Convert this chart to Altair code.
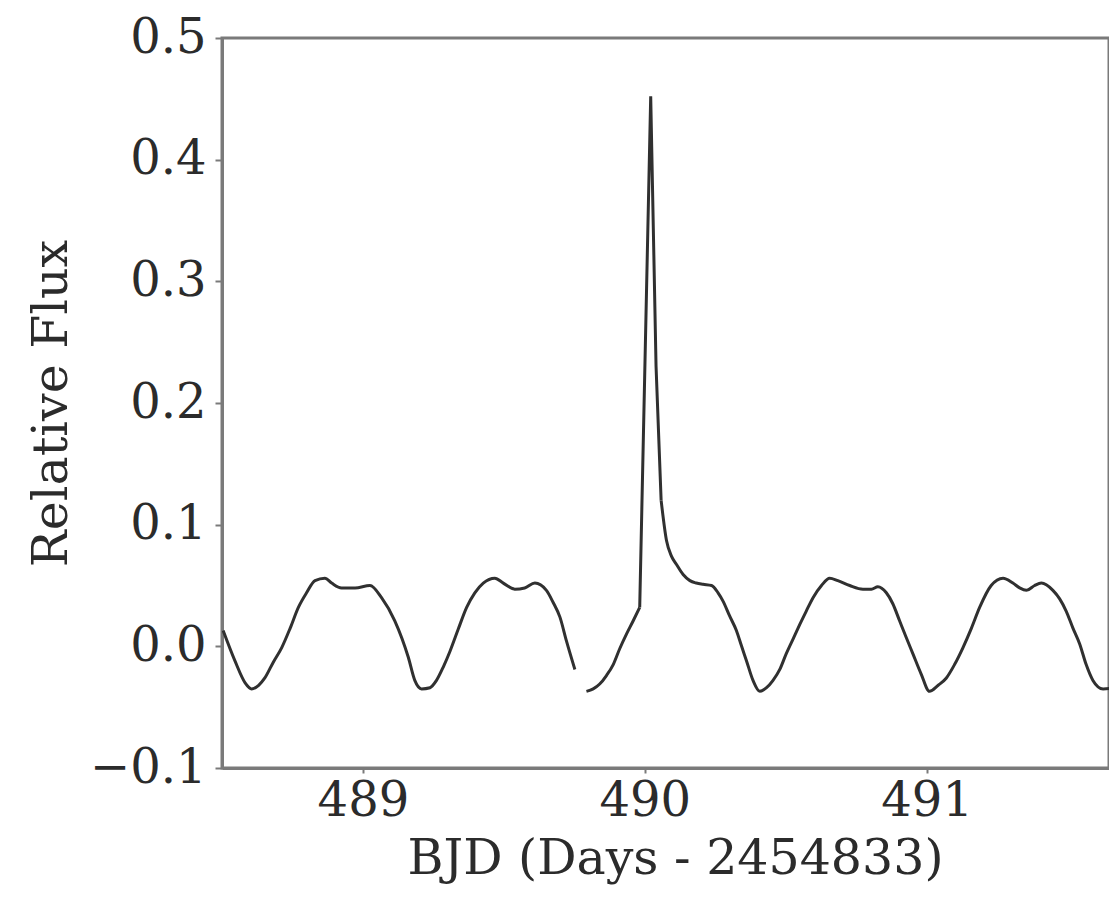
import altair as alt
import pandas as pd

# Segment 1 (before data gap)
seg1_days = [488.504, 488.546, 488.582, 488.605, 488.630, 488.652, 488.682, 488.712,
             488.742, 488.771, 488.800, 488.830, 488.865, 488.889, 488.924, 488.972,
             489.025, 489.066, 489.113, 489.161, 489.184, 489.208, 489.238, 489.261,
             489.285, 489.309, 489.338, 489.368, 489.397, 489.427, 489.468, 489.498,
             489.539, 489.574, 489.610, 489.651, 489.675, 489.699, 489.722, 489.752]
seg1_flux = [0.013, -0.012, -0.030, -0.035, -0.032, -0.026, -0.013, -0.001,
             0.015, 0.032, 0.044, 0.054, 0.056, 0.052, 0.048, 0.048,
             0.050, 0.040, 0.021, -0.009, -0.028, -0.035, -0.034, -0.028,
             -0.017, -0.004, 0.014, 0.032, 0.044, 0.052, 0.056, 0.052,
             0.047, 0.048, 0.052, 0.046, 0.036, 0.024, 0.0045, -0.019]

# Segment 2a (after data gap, rise up to flare onset)
seg2_days = [489.793, 489.817, 489.840, 489.864, 489.888, 489.911, 489.935, 489.959,
             489.982]
seg2_flux = [-0.037, -0.035, -0.031, -0.024, -0.015, -0.002, 0.010, 0.021,
             0.032]

# Flare (sharp, straight segments)
flare_days = [489.982, 490.021, 490.040, 490.058]
flare_flux = [0.032, 0.452, 0.230, 0.120]

# Segment 2b (flare decay and onward)
seg3_days = [490.058, 490.077, 490.095, 490.112, 490.136,
             490.160, 490.183, 490.207, 490.237, 490.260, 490.278, 490.301, 490.325,
             490.343, 490.361, 490.384, 490.408, 490.432, 490.455, 490.479, 490.502,
             490.526, 490.550, 490.573, 490.597, 490.627, 490.656, 490.685, 490.727,
             490.774, 490.804, 490.827, 490.857, 490.880, 490.904, 490.928, 490.951,
             490.981, 491.010, 491.041, 491.070, 491.099, 491.129, 491.159, 491.188,
             491.229, 491.271, 491.306, 491.330, 491.354, 491.383, 491.407, 491.448,
             491.472, 491.495, 491.519, 491.543, 491.566, 491.590, 491.626, 491.661,
             491.674, 491.690]
seg3_flux = [0.120, 0.087, 0.074, 0.0675, 0.059,
             0.054, 0.052, 0.051, 0.050, 0.044, 0.037, 0.025, 0.013,
             0.0004, -0.012, -0.028, -0.037, -0.034, -0.028, -0.019, -0.006,
             0.006, 0.018, 0.029, 0.040, 0.050, 0.056, 0.054, 0.050,
             0.047, 0.047, 0.049, 0.044, 0.035, 0.021, 0.007, -0.006,
             -0.023, -0.037, -0.032, -0.026, -0.015, -0.001, 0.015, 0.032,
             0.050, 0.056, 0.052, 0.048, 0.046, 0.050, 0.052, 0.046,
             0.039, 0.029, 0.015, 0.002, -0.015, -0.028, -0.035, -0.034,
             -0.023, -0.010]

x_ticks = [489, 490, 491]
y_ticks = [-0.1, 0.0, 0.1, 0.2, 0.3, 0.4, 0.5]

smooth_df = pd.concat([
    pd.DataFrame({"day": seg1_days, "flux": seg1_flux, "seg": "a"}),
    pd.DataFrame({"day": seg2_days, "flux": seg2_flux, "seg": "b"}),
    pd.DataFrame({"day": seg3_days, "flux": seg3_flux, "seg": "c"}),
], ignore_index=True)
flare_df = pd.DataFrame({"day": flare_days, "flux": flare_flux, "seg": "f"})

FONT = "DejaVu Serif"
AXIS_COLOR = "#7a7a7a"
TEXT_COLOR = "#2b2b2b"
LINE_COLOR = "#303030"

x_enc = alt.X("day:Q",
              scale=alt.Scale(domain=[488.5, 491.647], nice=False, zero=False),
              axis=alt.Axis(values=x_ticks, format="d", title="BJD (Days - 2454833)",
                            grid=False, tickSize=5, labelPadding=4, titlePadding=9,
                            titleX=453, titleAlign="center"))
y_enc = alt.Y("flux:Q",
              scale=alt.Scale(domain=[-0.1, 0.5], nice=False, zero=False),
              axis=alt.Axis(values=y_ticks, format=".1f", title="Relative Flux",
                            grid=False, tickSize=7, labelPadding=9, titlePadding=13))

smooth = alt.Chart(smooth_df).mark_line(
    color=LINE_COLOR, strokeWidth=3, clip=True, interpolate="monotone"
).encode(x=x_enc, y=y_enc, detail="seg:N")

flare = alt.Chart(flare_df).mark_line(
    color=LINE_COLOR, strokeWidth=3, clip=True, strokeJoin="miter"
).encode(x=x_enc, y=y_enc)

chart = alt.layer(smooth, flare).properties(
    width=887,
    height=730,
    autosize=alt.AutoSizeParams(type="none"),
    padding={"left": 214, "top": 30, "right": 0, "bottom": 118},
).configure_view(
    stroke=AXIS_COLOR, strokeWidth=3
).configure_axis(
    domainColor=AXIS_COLOR, domainWidth=3, tickColor=AXIS_COLOR, tickWidth=2,
    labelFont=FONT, labelFontSize=48, labelColor=TEXT_COLOR,
    titleFont=FONT, titleFontSize=49, titleColor=TEXT_COLOR, titleFontWeight="normal",
)

chart.save("out.html", embed_options={"renderer": "svg", "actions": False})
